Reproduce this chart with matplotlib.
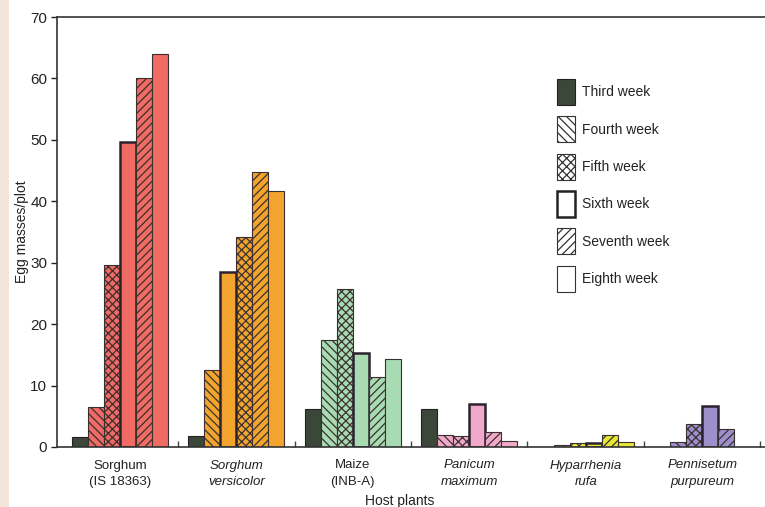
import matplotlib
matplotlib.use("Agg")
import matplotlib.pyplot as plt
from matplotlib.patches import Patch, Rectangle
from matplotlib.ticker import FixedLocator
import numpy as np

plt.rcParams['font.family'] = ['Liberation Sans', 'DejaVu Sans']
plt.rcParams['hatch.linewidth'] = 0.9

# ---- data -------------------------------------------------------------
hosts = ["Sorghum\n(IS 18363)", "Sorghum\nversicolor", "Maize\n(INB-A)",
         "Panicum\nmaximum", "Hyparrhenia\nrufa", "Pennisetum\npurpureum"]
host_italic = [False, True, False, True, True, True]
weeks = ["Third week", "Fourth week", "Fifth week",
         "Sixth week", "Seventh week", "Eighth week"]

third_week   = [1.7, 1.8, 6.2, 6.2, 0.0, 0.0]
fourth_week  = [6.5, 12.5, 17.4, 1.9, 0.4, 0.8]
fifth_week   = [29.6, 34.2, 25.7, 1.8, 0.7, 3.7]
sixth_week   = [49.6, 28.5, 15.3, 7.0, 0.7, 6.7]
seventh_week = [60.0, 44.8, 11.4, 2.5, 1.9, 2.9]
eighth_week  = [64.0, 41.7, 14.3, 1.0, 0.8, 0.0]
series = [third_week, fourth_week, fifth_week, sixth_week, seventh_week, eighth_week]

# slot in which each week's bar is placed within a host group
slot_of_week = [
    [0, 1, 2, 3, 4, 5],
    [0, 1, 3, 2, 4, 5],
    [0, 1, 2, 3, 4, 5],
    [0, 1, 2, 3, 4, 5],
    [0, 1, 2, 3, 4, 5],
    [0, 1, 2, 3, 4, 5],
]

# ---- styling ----------------------------------------------------------
host_colors = ["#ef6b63", "#f3a42e", "#a9dbb3", "#f2a9c9", "#e6e834", "#9d8fcc"]
third_color = "#3b4739"
week_hatch = [None, "\\\\\\\\", "xxxx", None, "////", None]
dark = "#2b2230"
text_color = "#222222"

fig = plt.figure(figsize=(7.65, 5.07), dpi=100)
fig.patches.append(Rectangle((0, 0), 9 / 765, 1, transform=fig.transFigure,
                             facecolor="#f3e6d8", edgecolor="none", zorder=-5))
ax = fig.add_axes([57 / 765, 60 / 507, 715 / 765, 430 / 507])

w = 16 / 116.5
x = np.arange(len(hosts))
for wi, vals in enumerate(series):
    for hi, v in enumerate(vals):
        if v <= 0:
            continue
        xpos = x[hi] + (slot_of_week[hi][wi] - 2.5) * w
        if wi == 0:
            ax.bar(xpos, v, w, color=third_color, edgecolor="#222222", linewidth=0.8, zorder=2)
        elif wi == 3:
            ax.bar(xpos, v, w, color=host_colors[hi], edgecolor=dark, linewidth=1.8, zorder=2)
        else:
            ax.bar(xpos, v, w, color=host_colors[hi], edgecolor="#3a3030",
                   linewidth=0.8, hatch=week_hatch[wi], zorder=2)

ax.set_xlim(-0.54, 5.6)
ax.set_ylim(0, 70)
ax.set_yticks(np.arange(0, 71, 10))
ax.tick_params(axis="y", direction="out", length=4, width=1, pad=3,
               labelsize=11, colors=text_color)
ax.set_xticks(x)
ax.set_xticklabels(hosts, fontsize=9.5, color=text_color, linespacing=1.5)
for lab, it in zip(ax.get_xticklabels(), host_italic):
    if it:
        lab.set_fontstyle("italic")
ax.tick_params(axis="x", which="major", length=0, pad=9)
ax.xaxis.set_minor_locator(FixedLocator(np.arange(0.5, 6, 1.0)))
ax.tick_params(axis="x", which="minor", direction="in", length=4, width=1, color="#444444")

for s in ["left", "bottom", "top"]:
    ax.spines[s].set_color("#333333")
    ax.spines[s].set_linewidth(1.2)
ax.spines["right"].set_visible(False)

ax.set_ylabel("Egg masses/plot", fontsize=10, color=text_color, labelpad=1)
ax.set_xlabel("Host plants", fontsize=10, color=text_color)
ax.xaxis.set_label_coords((400 - 57) / 715, -0.11)

handles = [
    Patch(facecolor=third_color, edgecolor="#222222", linewidth=0.8),
    Patch(facecolor="white", edgecolor="#333333", linewidth=0.8, hatch="\\\\\\\\"),
    Patch(facecolor="white", edgecolor="#333333", linewidth=0.8, hatch="xxxx"),
    Patch(facecolor="white", edgecolor="#222222", linewidth=1.8),
    Patch(facecolor="white", edgecolor="#333333", linewidth=0.8, hatch="////"),
    Patch(facecolor="white", edgecolor="#333333", linewidth=0.8),
]
ax.legend(handles, weeks, loc="upper left", bbox_to_anchor=((557 - 57) / 715, (447 - 79) / 430),
          frameon=False, fontsize=10, handlelength=1.3, handleheight=2.5,
          labelspacing=0.82, handletextpad=0.5, borderpad=0, borderaxespad=0,
          labelcolor=text_color)

fig.savefig("out.png", dpi=100)
